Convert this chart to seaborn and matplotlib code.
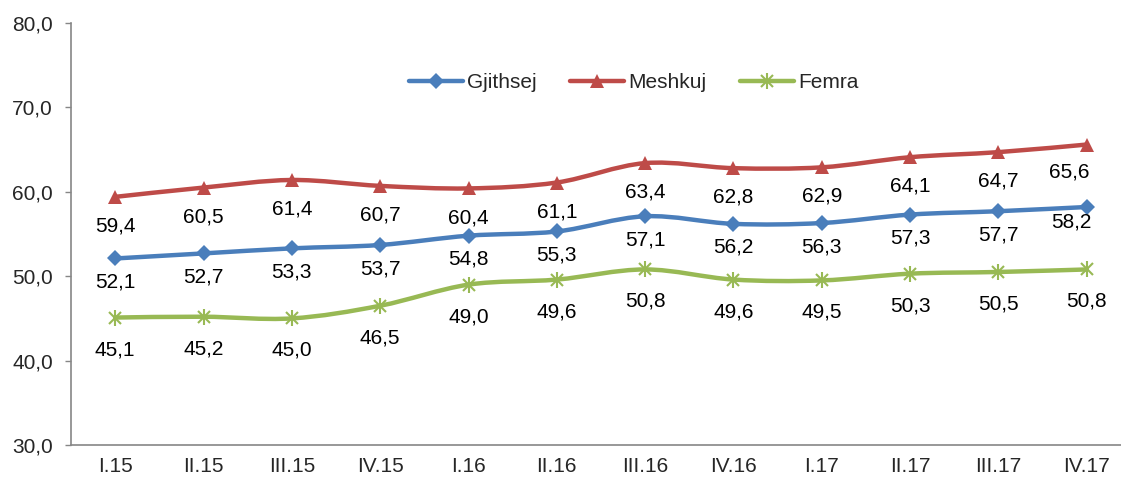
import numpy as np
import matplotlib
matplotlib.use("Agg")
import matplotlib.pyplot as plt
from matplotlib.path import Path
from matplotlib.patches import PathPatch
from matplotlib.lines import Line2D
from matplotlib.legend_handler import HandlerTuple
import seaborn as sns

# dados
quarters = ["I.15", "II.15", "III.15", "IV.15", "I.16", "II.16",
            "III.16", "IV.16", "I.17", "II.17", "III.17", "IV.17"]
gjithsej = [52.1, 52.7, 53.3, 53.7, 54.8, 55.3, 57.1, 56.2, 56.3, 57.3, 57.7, 58.2]
meshkuj = [59.4, 60.5, 61.4, 60.7, 60.4, 61.1, 63.4, 62.8, 62.9, 64.1, 64.7, 65.6]
femra = [45.1, 45.2, 45.0, 46.5, 49.0, 49.6, 50.8, 49.6, 49.5, 50.3, 50.5, 50.8]

sns.set_style("white")
plt.rcParams['font.family'] = ['Liberation Sans', 'DejaVu Sans']

fig = plt.figure(figsize=(11.21, 4.79), dpi=100)
ax = fig.add_axes([71 / 1121, 34 / 479, 1060 / 1121, 422 / 479])

x = np.arange(len(quarters))


def smooth_path(xs, ys):
    # curva tipo Excel (Bezier cubica, Catmull-Rom)
    pts = np.column_stack([xs, ys]).astype(float)
    n = len(pts)
    verts = [pts[0]]
    codes = [Path.MOVETO]
    for i in range(n - 1):
        p0 = pts[max(i - 1, 0)]
        p1 = pts[i]
        p2 = pts[i + 1]
        p3 = pts[min(i + 2, n - 1)]
        c1 = p1 + (p2 - p0) / 6.0
        c2 = p2 - (p3 - p1) / 6.0
        verts += [c1, c2, p2]
        codes += [Path.CURVE4] * 3
    return Path(verts, codes)


series = [
    ("Gjithsej", gjithsej, "#4A7EBB", "D", 8, 17),
    ("Meshkuj", meshkuj, "#BE4B48", "^", 10, 21),
    ("Femra", femra, "#98B954", None, 10, 23),
]

handles = []
for name, vals, color, marker, msize, off in series:
    ax.add_patch(PathPatch(smooth_path(x, vals), facecolor="none", edgecolor=color,
                           lw=3.2, capstyle="round", joinstyle="round", zorder=2))
    if marker is not None:
        sns.lineplot(x=x, y=vals, ax=ax, color=color, linestyle="none", marker=marker,
                     markersize=msize, markeredgewidth=0, markerfacecolor=color, zorder=3)
        handles.append(Line2D([], [], color=color, lw=3.2, marker=marker,
                              markersize=msize, markeredgewidth=0,
                              solid_capstyle="round"))
    else:
        sns.lineplot(x=x, y=vals, ax=ax, color=color, linestyle="none", marker="x",
                     markersize=9, markeredgewidth=1.5, markeredgecolor=color, zorder=3)
        sns.lineplot(x=x, y=vals, ax=ax, color=color, linestyle="none", marker="|",
                     markersize=12, markeredgewidth=1.5, markeredgecolor=color, zorder=3)
        handles.append((Line2D([], [], color=color, lw=3.2, solid_capstyle="round"),
                        Line2D([], [], color=color, lw=0, marker="x", markersize=9,
                               markeredgewidth=1.5),
                        Line2D([], [], color=color, lw=0, marker="|", markersize=12,
                               markeredgewidth=1.5)))
    # etiquetas de dados
    for i, v in enumerate(vals):
        dx, dy = 0, -off
        if i == len(vals) - 1 and name == "Meshkuj":
            dx, dy = -13, -20
        if i == len(vals) - 1 and name == "Gjithsej":
            dx, dy = -11, -11
        ax.annotate(f"{v:.1f}".replace(".", ","), (x[i], v), xytext=(dx, dy),
                    textcoords="offset points", ha="center", va="center",
                    fontsize=15, color="black", zorder=4)

ax.set_xlim(-0.5, 11.5)
ax.set_ylim(30, 80)
ax.set_yticks(np.arange(30, 81, 10))
ax.set_yticklabels([f"{t:.1f}".replace(".", ",") for t in np.arange(30, 81, 10)])
ax.set_xticks(x)
ax.set_xticklabels(quarters)
ax.set_xticks(np.arange(-0.5, 12, 1), minor=True)
ax.tick_params(axis="x", which="major", length=0, pad=9, labelsize=15)
ax.tick_params(axis="x", which="minor", length=4, color="#868686", width=1)
ax.tick_params(axis="y", length=4, color="#868686", width=1, pad=9, labelsize=15, left=True)
ax.set_xlabel("")
ax.set_ylabel("")

for s in ["top", "right"]:
    ax.spines[s].set_visible(False)
for s in ["left", "bottom"]:
    ax.spines[s].set_color("#868686")
    ax.spines[s].set_linewidth(1.2)

ax.legend(handles, ["Gjithsej", "Meshkuj", "Femra"], ncol=3, frameon=False,
          loc="center", bbox_to_anchor=(0.531, 0.858), fontsize=15,
          handlelength=2.6, handletextpad=0.2, columnspacing=1.6,
          handler_map={tuple: HandlerTuple(ndivide=1, pad=0)})

fig.savefig("out.png", dpi=100)
